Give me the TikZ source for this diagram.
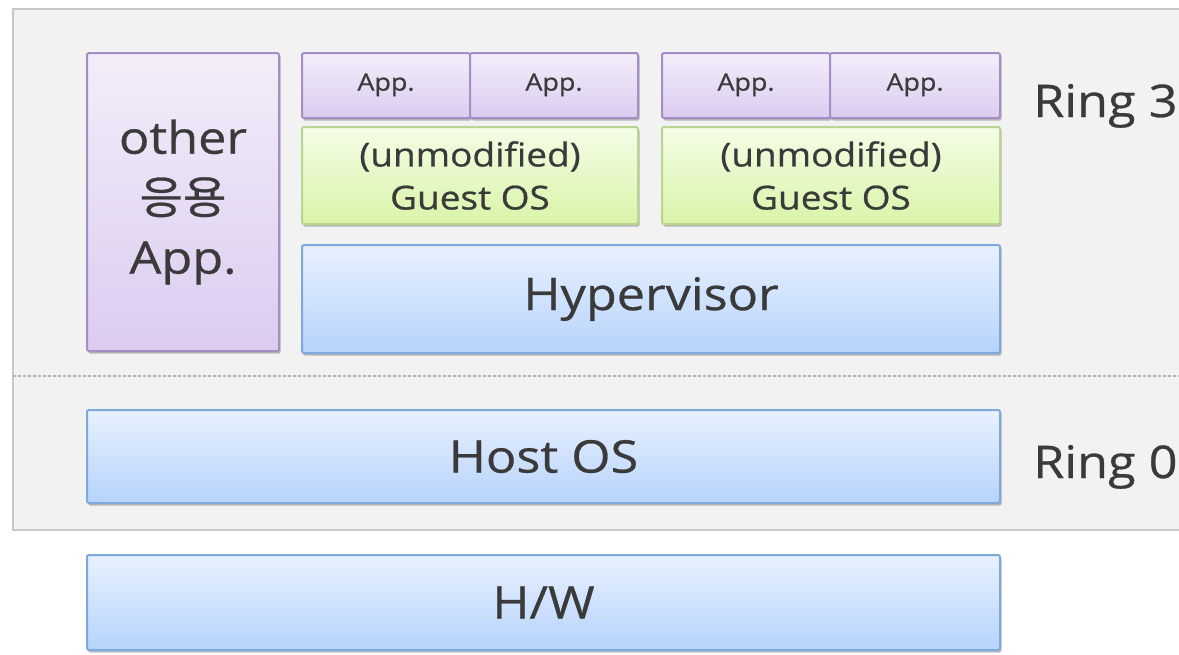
\documentclass[tikz,border=0pt]{standalone}
\usepackage{fontspec}
\setmainfont{Open Sans}[FakeStretch=1.12, FakeBold=0.6]
\newfontfamily\krfont{Noto Sans CJK KR}[FakeStretch=1.05, FakeBold=0.6]
\usetikzlibrary{shadows}
\definecolor{panelfill}{HTML}{F2F2F2}
\definecolor{paneldraw}{HTML}{C8C8C8}
\definecolor{bluetop}{HTML}{E8F1FF}
\definecolor{bluebot}{HTML}{B6D3FB}
\definecolor{bluedraw}{HTML}{7EA9DD}
\definecolor{purptop}{HTML}{F2EEF9}
\definecolor{purpbot}{HTML}{DCCBF0}
\definecolor{purpdraw}{HTML}{A68DC6}
\definecolor{greentop}{HTML}{F4FDE6}
\definecolor{greenbot}{HTML}{D9F4A9}
\definecolor{greendraw}{HTML}{B9D68E}
\definecolor{txt}{HTML}{3A3A3A}
\tikzset{
  x=1pt, y=-1pt,
  layer/.style={rectangle, anchor=north west, inner sep=0pt, outer sep=0pt,
    line width=2pt, rounded corners=1.5pt, text=txt, align=center,
    drop shadow={shadow xshift=1.5pt, shadow yshift=-2.5pt, opacity=0.25, fill=black}},
  bluebox/.style={layer, draw=bluedraw, top color=bluetop, bottom color=bluebot},
  purpbox/.style={layer, draw=purpdraw, top color=purptop, bottom color=purpbot},
  greenbox/.style={layer, draw=greendraw, top color=greentop, bottom color=greenbot},
  bigtext/.style={font=\fontsize{45}{50}\selectfont},
  apptext/.style={font=\fontsize{24}{28}\selectfont},
  guesttext/.style={font=\fontsize{33}{43}\selectfont},
  ringlabel/.style={anchor=base west, text=txt, inner sep=0pt, font=\fontsize{45}{50}\selectfont}
}
\begin{document}
\begin{tikzpicture}
\useasboundingbox (0,0) rectangle (1179,654);
\fill[white] (0,0) rectangle (1179,654);
\begin{scope}
\clip (0,0) rectangle (1179,654);
\draw[fill=panelfill, draw=paneldraw, line width=1.5pt] (13,9) rectangle (1190,530);
\draw[gray!60, line width=1.2pt, dash pattern=on 3pt off 2pt] (13,376) -- (1190,376);
\end{scope}

\node[purpbox, minimum width=192, minimum height=298, font=\fontsize{45}{60}\selectfont] (other) at (87,53)
  {\raisebox{-6pt}{other}\\\raisebox{-6pt}{\krfont 응용}\\\raisebox{-6pt}{App.}};

\node[purpbox, apptext, minimum width=168, minimum height=65] (a1) at (302,53) {\raisebox{7pt}{App.}};
\node[purpbox, apptext, minimum width=168, minimum height=65] (a2) at (470,53) {\raisebox{7pt}{App.}};
\node[purpbox, apptext, minimum width=168, minimum height=65] (a3) at (662,53) {\raisebox{7pt}{App.}};
\node[purpbox, apptext, minimum width=170, minimum height=65] (a4) at (830,53) {\raisebox{7pt}{App.}};

\node[greenbox, guesttext, minimum width=336, minimum height=97] (g1) at (302,127) {(unmodified)\\Guest OS};
\node[greenbox, guesttext, minimum width=338, minimum height=97] (g2) at (662,127) {(unmodified)\\Guest OS};

\node[bluebox, bigtext, minimum width=698, minimum height=108] (hyp) at (302,245) {Hypervisor};
\node[bluebox, bigtext, minimum width=913, minimum height=93] (host) at (87,410) {Host OS};
\node[bluebox, bigtext, minimum width=913, minimum height=95] (hw) at (87,555) {H/W};

\node[ringlabel] (r3) at (1033,117) {Ring 3};
\node[ringlabel] (r0) at (1033,478) {Ring 0};
\end{tikzpicture}
\end{document}
